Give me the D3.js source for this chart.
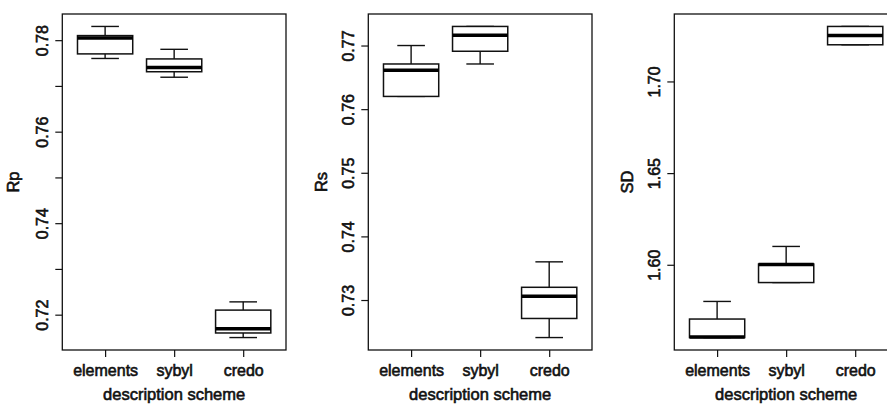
<!DOCTYPE html>
<html>
<head>
<meta charset="utf-8">
<script src="https://cdn.jsdelivr.net/npm/d3@7"></script>
<style>
  body { margin: 0; background: white; }
  text { font-family: "Liberation Sans", Arial, sans-serif; fill: #111; stroke: #111; stroke-width: 0.6px; }
</style>
</head>
<body>
<div id="chart"></div>
<script>
// categories on the x axis
const schemes = ['elements', 'sybyl', 'credo'];

// five-number summaries per scheme: [min, q1, median, q3, max]
const rpStats = [
  [0.7760, 0.7770, 0.7805, 0.7810, 0.7830],
  [0.7719, 0.7731, 0.7740, 0.7759, 0.7780],
  [0.7150, 0.7160, 0.7169, 0.7210, 0.7228]
];
const rsStats = [
  [0.7620, 0.7620, 0.7661, 0.7671, 0.7700],
  [0.7671, 0.7691, 0.7716, 0.7730, 0.7730],
  [0.7241, 0.7271, 0.7306, 0.7320, 0.7360]
];
const sdStats = [
  [1.5603, 1.5603, 1.5606, 1.5704, 1.5800],
  [1.5903, 1.5903, 1.6002, 1.6004, 1.6100],
  [1.7200, 1.7200, 1.7251, 1.7300, 1.7300]
];

// y ticks and which of them carry a label
const rpTicks = [0.72, 0.73, 0.74, 0.75, 0.76, 0.77, 0.78];
const rpLabels = ['0.72', '', '0.74', '', '0.76', '', '0.78'];
const rsTicks = [0.73, 0.74, 0.75, 0.76, 0.77];
const rsLabels = ['0.73', '0.74', '0.75', '0.76', '0.77'];
const sdTicks = [1.60, 1.65, 1.70];
const sdLabels = ['1.60', '1.65', '1.70'];

const panels = [
  { name: 'Rp', stats: rpStats, ticks: rpTicks, labels: rpLabels, labelOff: 43 },
  { name: 'Rs', stats: rsStats, ticks: rsTicks, labels: rsLabels, labelOff: 41 },
  { name: 'SD', stats: sdStats, ticks: sdTicks, labels: sdLabels, labelOff: 41 }
];

const width = 887, height = 405;
const figW = 306;
const margin = { top: 14, left: 62.3, plotW: 223.7, bottom: 350 };

const svg = d3.select('#chart')
  .append('svg')
  .attr('width', width)
  .attr('height', height)
  .style('background', 'white');

panels.forEach(function(p, i) {
  const x0 = i * figW + margin.left;
  const g = svg.append('g').attr('transform', `translate(${x0},0)`);

  // R style limits: data range padded by 4%
  const lo = d3.min(p.stats, d => d[0]);
  const hi = d3.max(p.stats, d => d[4]);
  const pad = (hi - lo) * 0.04;

  const yScale = d3.scaleLinear()
    .domain([lo - pad, hi + pad])
    .range([margin.bottom, margin.top]);

  const xScale = d3.scaleLinear()
    .domain([0.38, 3.62])
    .range([0, margin.plotW]);

  // y axis
  const yAxis = d3.axisLeft(yScale)
    .tickValues(p.ticks)
    .tickFormat((d, k) => p.labels[k])
    .tickSize(7)
    .tickSizeOuter(0);

  const ya = g.append('g').call(yAxis);
  ya.select('.domain').remove();
  ya.selectAll('line').attr('stroke', '#111').attr('stroke-width', 1.2);
  ya.selectAll('text')
    .attr('transform', 'rotate(-90)')
    .attr('x', 0)
    .attr('y', -14)
    .attr('dy', 0)
    .attr('text-anchor', 'middle')
    .attr('fill', '#111')
    .style('font-size', '16px');

  // x axis
  const xAxis = d3.axisBottom(xScale)
    .tickValues([1, 2, 3])
    .tickFormat(d => schemes[d - 1])
    .tickSize(7)
    .tickSizeOuter(0);

  const xa = g.append('g')
    .attr('transform', `translate(0,${margin.bottom})`)
    .call(xAxis);
  xa.select('.domain').remove();
  xa.selectAll('line').attr('stroke', '#111').attr('stroke-width', 1.2);
  xa.selectAll('text')
    .attr('y', 26)
    .attr('dy', 0)
    .attr('fill', '#111')
    .style('font-size', '16px');

  // frame
  g.append('rect')
    .attr('x', 0)
    .attr('y', margin.top)
    .attr('width', margin.plotW)
    .attr('height', margin.bottom - margin.top)
    .attr('fill', 'none')
    .attr('stroke', '#111')
    .attr('stroke-width', 1.3);

  // boxes
  const boxes = g.append('g')
    .selectAll('.box')
    .data(p.stats)
    .enter()
    .append('g')
    .attr('class', 'box');

  // upper whisker
  boxes.append('line')
    .attr('x1', (d, k) => xScale(k + 1))
    .attr('x2', (d, k) => xScale(k + 1))
    .attr('y1', d => yScale(d[3]))
    .attr('y2', d => yScale(d[4]))
    .attr('stroke', '#111').attr('stroke-width', 1.4);
  boxes.append('line')
    .attr('x1', (d, k) => xScale(k + 1 - 0.2))
    .attr('x2', (d, k) => xScale(k + 1 + 0.2))
    .attr('y1', d => yScale(d[4]))
    .attr('y2', d => yScale(d[4]))
    .attr('stroke', '#111').attr('stroke-width', 1.4);

  // lower whisker
  boxes.append('line')
    .attr('x1', (d, k) => xScale(k + 1))
    .attr('x2', (d, k) => xScale(k + 1))
    .attr('y1', d => yScale(d[1]))
    .attr('y2', d => yScale(d[0]))
    .attr('stroke', '#111').attr('stroke-width', 1.4);
  boxes.append('line')
    .attr('x1', (d, k) => xScale(k + 1 - 0.2))
    .attr('x2', (d, k) => xScale(k + 1 + 0.2))
    .attr('y1', d => yScale(d[0]))
    .attr('y2', d => yScale(d[0]))
    .attr('stroke', '#111').attr('stroke-width', 1.4);

  boxes.append('rect')
    .attr('x', (d, k) => xScale(k + 1 - 0.4))
    .attr('width', xScale(0.8) - xScale(0))
    .attr('y', d => yScale(d[3]))
    .attr('height', d => yScale(d[1]) - yScale(d[3]))
    .attr('fill', 'white')
    .attr('stroke', '#111')
    .attr('stroke-width', 1.5);

  // median
  boxes.append('line')
    .attr('x1', (d, k) => xScale(k + 1 - 0.4))
    .attr('x2', (d, k) => xScale(k + 1 + 0.4))
    .attr('y1', d => yScale(d[2]))
    .attr('y2', d => yScale(d[2]))
    .attr('stroke', '#000')
    .attr('stroke-width', 3.5);

  // labels
  g.append('text')
    .attr('x', margin.plotW / 2)
    .attr('y', 400)
    .attr('text-anchor', 'middle')
    .style('font-size', '16.5px')
    .text('description scheme');

  g.append('text')
    .attr('transform', `translate(${-p.labelOff},${(margin.top + margin.bottom) / 2})rotate(-90)`)
    .attr('text-anchor', 'middle')
    .style('font-size', '16.5px')
    .text(p.name);
});
</script>
</body>
</html>
